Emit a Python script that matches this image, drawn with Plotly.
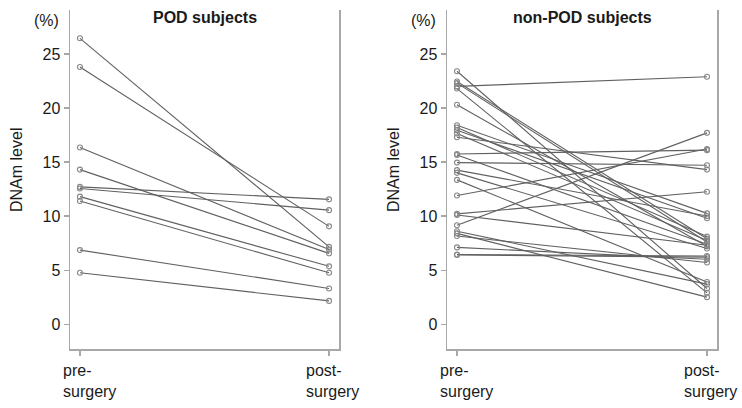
import plotly.graph_objects as go

# ---- data ----
time_labels = ["pre-<br>surgery", "post-<br>surgery"]
y_ticks = [0, 5, 10, 15, 20, 25]

pod_pre = [26.45, 23.8, 16.35, 14.3, 12.7, 12.55, 11.8, 11.4, 6.85, 4.75]
pod_post = [7.15, 9.05, 6.9, 6.55, 11.55, 10.55, 5.35, 4.75, 3.3, 2.15]

nonpod_pre = [23.4, 22.45, 22.3, 22.0, 21.8, 20.3, 18.4, 18.2, 17.95, 17.65,
              17.3, 15.75, 15.65, 14.95, 14.25, 14.0, 13.35, 11.9, 10.2, 10.1,
              9.15, 8.6, 8.4, 8.15, 7.1, 6.45, 6.4]
nonpod_post = [3.3, 7.9, 7.6, 22.9, 2.9, 7.2, 10.25, 8.1, 9.8, 7.75,
               14.3, 16.1, 7.4, 14.7, 10.0, 7.0, 3.9, 16.2, 12.25, 7.3,
               17.7, 3.7, 2.5, 5.7, 6.0, 6.3, 6.2]

panel_titles = ["POD subjects", "non-POD subjects"]

# ---- figure ----
W, H = 742, 408
FONT = "Liberation Sans, Arial, sans-serif"
LINE_COL = "#606060"
AX_COL = "#a8a8a8"
TXT_COL = "#1a1a1a"

xpos = list(range(len(time_labels)))

fig = go.Figure()

def add_panel(pre, post, xa, ya):
    for a, b in zip(pre, post):
        fig.add_trace(go.Scatter(
            x=xpos, y=[a, b], xaxis=xa, yaxis=ya,
            mode="lines+markers",
            line=dict(color=LINE_COL, width=1.1),
            marker=dict(symbol="circle-open", size=5, color="#888888",
                        line=dict(width=1.1, color="#888888")),
            showlegend=False, hoverinfo="skip"))

add_panel(pod_pre, pod_post, "x", "y")
add_panel(nonpod_pre, nonpod_post, "x2", "y2")

def px(xp):
    return xp / W

def py(yp):
    return 1 - yp / H

top_px, bot_px = 10, 349
dom_left = [px(70), px(339)]
dom_right = [px(447), px(717)]
ydom = [py(bot_px), py(top_px)]

yrange = [-2.3, 29.07]
xrange_ = [-0.04, 1.04]

xcommon = dict(range=xrange_, showgrid=False, zeroline=False,
               showline=True, linecolor=AX_COL, linewidth=1.5,
               ticks="outside", ticklen=5, tickcolor=AX_COL, tickwidth=1.2,
               tickvals=xpos, showticklabels=False, fixedrange=True)
ycommon = dict(range=yrange, showgrid=False, zeroline=False,
               showline=True, mirror=True, linecolor=AX_COL, linewidth=1.5,
               ticks="outside", ticklen=5, tickcolor=AX_COL, tickwidth=1.2,
               tickvals=y_ticks, ticktext=[str(v) for v in y_ticks],
               tickfont=dict(family=FONT, size=16, color=TXT_COL),
               fixedrange=True)

fig.update_layout(
    width=W, height=H,
    margin=dict(l=0, r=0, t=0, b=0),
    paper_bgcolor="white", plot_bgcolor="white",
    xaxis=dict(domain=dom_left, anchor="y", **xcommon),
    yaxis=dict(domain=ydom, anchor="x", **ycommon),
    xaxis2=dict(domain=dom_right, anchor="y2", **xcommon),
    yaxis2=dict(domain=ydom, anchor="x2", **ycommon),
)

ann = []
label_shift = [-19, -25]
for xa in ["x", "x2"]:
    for i, lab in enumerate(time_labels):
        ann.append(dict(x=xpos[i], xref=xa, y=py(360), yref="paper",
                        text=lab, showarrow=False, xanchor="left", yanchor="top",
                        align="left", xshift=label_shift[i],
                        font=dict(family=FONT, size=16, color=TXT_COL)))

for k, (dom, title) in enumerate(zip([dom_left, dom_right], panel_titles)):
    cx = (dom[0] + dom[1]) / 2
    ann.append(dict(x=cx, y=py(18), xref="paper", yref="paper", text=f"<b>{title}</b>",
                    showarrow=False, xanchor="center", yanchor="middle",
                    font=dict(family=FONT, size=16, color=TXT_COL)))
    axis_x = dom[0] * W
    ann.append(dict(x=px(axis_x - 24), y=py(20), xref="paper", yref="paper", text="(%)",
                    showarrow=False, xanchor="center", yanchor="middle",
                    font=dict(family=FONT, size=16, color=TXT_COL)))
    ann.append(dict(x=px(axis_x - 54), y=py(170), xref="paper", yref="paper",
                    text="DNAm level", textangle=-90,
                    showarrow=False, xanchor="center", yanchor="middle",
                    font=dict(family=FONT, size=16, color=TXT_COL)))

fig.update_layout(annotations=ann)

fig.write_html("out.html",
               config={"displayModeBar": False, "staticPlot": True},
               post_script="document.body.style.margin='0px';document.body.style.overflow='hidden';")
